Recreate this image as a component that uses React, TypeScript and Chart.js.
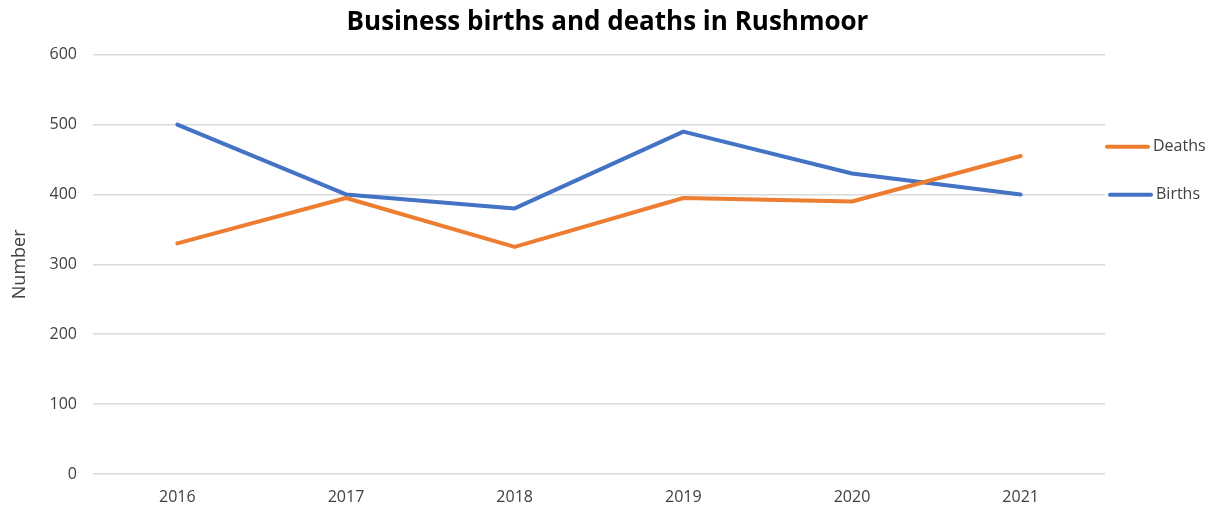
import React, { useEffect, useRef } from "react";
import { Chart, registerables } from "chart.js";

Chart.register(...registerables);

const years = ["2016", "2017", "2018", "2019", "2020", "2021"];
const deaths = [330, 395, 325, 395, 390, 455];
const births = [500, 400, 380, 490, 430, 400];
const seriesLabels = ["Deaths", "Births"];
const seriesColors = ["#ED7D31", "#4472C4"];
const titleText = "Business births and deaths in Rushmoor";
const yAxisTitle = "Number";

const FONT = "'Open Sans', 'Noto Sans', sans-serif";
const TEXT = "#404040";

const sideLegend = {
  id: "sideLegend",
  afterDraw(chart: any) {
    const { ctx, chartArea } = chart;
    ctx.save();
    chart.data.datasets.forEach((ds: any, i: number) => {
      const y = chartArea.top + 92 + i * 48;
      const x0 = chartArea.right + (i === 0 ? 0 : 3);
      ctx.strokeStyle = ds.borderColor;
      ctx.lineWidth = 4;
      ctx.lineCap = "round";
      ctx.beginPath();
      ctx.moveTo(x0 + 2, y);
      ctx.lineTo(x0 + 43, y);
      ctx.stroke();
      ctx.fillStyle = TEXT;
      ctx.font = `16px ${FONT}`;
      ctx.textBaseline = "middle";
      ctx.textAlign = "left";
      ctx.fillText(ds.label, x0 + 48, y);
    });
    ctx.restore();
  },
};

export default function App() {
  const ref = useRef<HTMLCanvasElement | null>(null);

  useEffect(() => {
    document.body.style.margin = "0";
    const canvas = ref.current;
    if (!canvas) return;
    const chart = new Chart(canvas, {
      type: "line",
      data: {
        labels: years,
        datasets: [
          {
            label: seriesLabels[0],
            data: deaths,
            borderColor: seriesColors[0],
            backgroundColor: seriesColors[0],
            borderWidth: 4,
            pointRadius: 0,
            tension: 0,
            borderCapStyle: "round",
            borderJoinStyle: "round",
          },
          {
            label: seriesLabels[1],
            data: births,
            borderColor: seriesColors[1],
            backgroundColor: seriesColors[1],
            borderWidth: 4,
            pointRadius: 0,
            tension: 0,
            borderCapStyle: "round",
            borderJoinStyle: "round",
          },
        ],
      },
      options: {
        animation: false,
        responsive: false,
        layout: { padding: 0 },
        plugins: {
          legend: { display: false },
          tooltip: { enabled: false },
          title: {
            display: true,
            text: titleText,
            color: "#000000",
            font: { family: FONT, size: 26, weight: "bold" },
            padding: { top: 6.5, bottom: 17 },
          },
        },
        scales: {
          x: {
            offset: true,
            grid: { display: false, drawTicks: false },
            border: { display: false },
            ticks: {
              color: TEXT,
              font: { family: FONT, size: 16 },
              padding: 14,
            },
            afterFit(scale: any) {
              scale.height = 34;
            },
          },
          y: {
            min: 0,
            max: 600,
            ticks: {
              stepSize: 100,
              color: TEXT,
              font: { family: FONT, size: 16 },
              padding: 16,
            },
            grid: { color: "#D9D9D9", lineWidth: 1.5, drawTicks: false },
            border: { display: false },
            title: {
              display: true,
              text: yAxisTitle,
              color: TEXT,
              font: { family: FONT, size: 18 },
              padding: { top: 9, bottom: 0 },
            },
            afterFit(scale: any) {
              scale.width = 93;
            },
          },
          yRight: {
            position: "right",
            min: 0,
            max: 600,
            grid: { display: false, drawTicks: false },
            border: { display: false },
            ticks: { display: false },
            afterFit(scale: any) {
              scale.width = 110;
            },
          },
        },
      },
      plugins: [sideLegend],
    });
    return () => chart.destroy();
  }, []);

  return (
    <div style={{ width: 1215, height: 508 }}>
      <canvas ref={ref} width={1215} height={508} />
    </div>
  );
}
